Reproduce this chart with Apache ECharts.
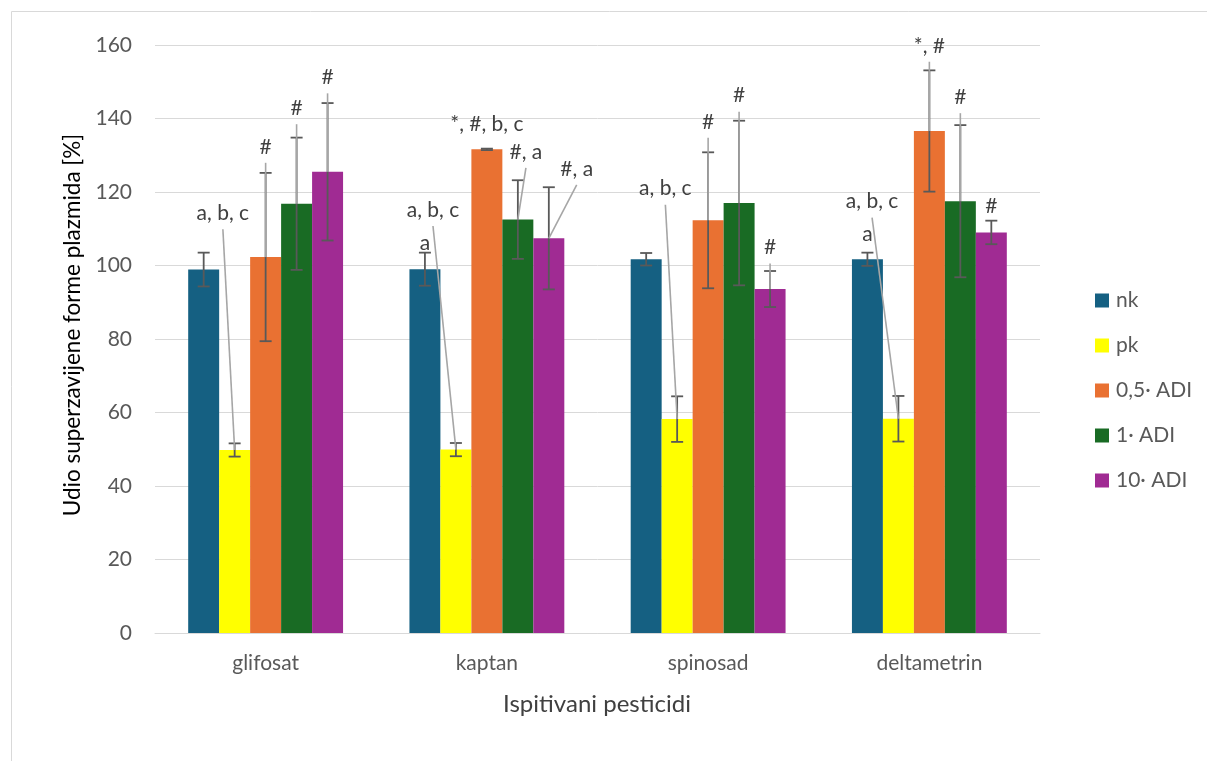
<!DOCTYPE html>
<html>
<head>
<meta charset="utf-8">
<script src="https://cdn.jsdelivr.net/npm/echarts@6/dist/echarts.min.js"></script>
<style>html,body{margin:0;padding:0;background:#fff}#c{width:1207px;height:761px}</style>
</head>
<body>
<div id="c"></div>
<script>
// ---- data ----
const categories = ['glifosat', 'kaptan', 'spinosad', 'deltametrin'];
const seriesNames = ['nk', 'pk', '0,5· ADI', '1· ADI', '10· ADI'];
const nk    = [98.9, 99.0, 101.7, 101.7];
const pk    = [49.8, 49.9, 58.2, 58.3];
const adi05 = [102.3, 131.6, 112.3, 136.6];
const adi1  = [116.8, 112.5, 117.0, 117.5];
const adi10 = [125.5, 107.4, 93.6, 109.0];
const nkErr    = [4.6, 4.5, 1.7, 1.8];
const pkErr    = [1.8, 1.8, 6.2, 6.2];
const adi05Err = [22.9, 0.2, 18.5, 16.5];
const adi1Err  = [18.0, 10.7, 22.4, 20.7];
const adi10Err = [18.7, 13.9, 4.9, 3.2];
const yTicks = [0, 20, 40, 60, 80, 100, 120, 140, 160];
// annotation texts: [category, series, text]
const annotTexts = [
  [0, 1, 'a, b, c'], [0, 2, '#'], [0, 3, '#'], [0, 4, '#'],
  [1, 0, 'a'], [1, 1, 'a, b, c'], [1, 2, '*, #, b, c'], [1, 3, '#, a'], [1, 4, '#, a'],
  [2, 1, 'a, b, c'], [2, 2, '#'], [2, 3, '#'], [2, 4, '#'],
  [3, 0, 'a'], [3, 1, 'a, b, c'], [3, 2, '*, #'], [3, 3, '#'], [3, 4, '#']
];
// annotation placement: [x offset in bar widths, label height (axis units), leader line]
const annotPlace = [
  [-0.38, 114.2, true], [0, 132.3, true], [0, 142.8, true], [0, 151.2, true],
  [0, 106.0, false], [-0.74, 115.1, true], [0, 138.4, false], [0.26, 130.9, true], [0.9, 126.3, true],
  [-0.38, 120.9, true], [0, 139.1, true], [0, 146.2, true], [0, 104.9, true],
  [0, 108.4, false], [-0.85, 117.4, true], [0, 159.8, true], [0, 145.8, true], [0, 116.0, false]
];

const values = [nk, pk, adi05, adi1, adi10];
const errors = [nkErr, pkErr, adi05Err, adi1Err, adi10Err];
const colors = ['#156082', '#FFFF00', '#E97132', '#196B24', '#A02B93'];
const FONT = 'Lato, "Open Sans", sans-serif';
const GAP = 0.30, NS = 5;

function barX(api, cat, s, dx) {
  const cw = api.size([1, 0])[0];
  const bw = cw * (1 - GAP) / NS;
  return api.coord([cat, 0])[0] + (s - (NS - 1) / 2) * bw + (dx || 0) * bw;
}

const errData = [];
values.forEach((arr, s) => arr.forEach((v, c) => errData.push([c, v - errors[s][c], v + errors[s][c], s])));

const chart = echarts.init(document.getElementById('c'));
const barSeries = seriesNames.map((n, s) => ({
  name: n, type: 'bar', data: values[s], barGap: '0%', barCategoryGap: (GAP * 100) + '%',
  itemStyle: { color: colors[s] }, z: 2
}));

const option = {
  animation: false,
  color: colors,
  grid: { left: 155, right: 167, top: 45, bottom: 128 },
  xAxis: {
    type: 'category', data: categories,
    axisLine: { lineStyle: { color: '#D9D9D9', width: 1 } },
    axisTick: { show: false },
    axisLabel: { color: '#595959', fontFamily: FONT, fontSize: 21, margin: 20 }
  },
  yAxis: {
    type: 'value', min: yTicks[0], max: yTicks[yTicks.length - 1], interval: yTicks[1] - yTicks[0],
    axisLine: { show: false }, axisTick: { show: false },
    splitLine: { lineStyle: { color: '#D9D9D9', width: 1 } },
    axisLabel: { color: '#595959', fontFamily: FONT, fontSize: 21, margin: 23 }
  },
  legend: {
    orient: 'vertical', left: 1090, top: 285,
    itemWidth: 14, itemHeight: 14, itemGap: 24, icon: 'rect',
    data: seriesNames,
    textStyle: { color: '#595959', fontFamily: FONT, fontSize: 21, lineHeight: 21, padding: [0, 0, 0, 2] }
  },
  graphic: [
    { type: 'rect', shape: { x: 11.5, y: 11.5, width: 1300, height: 900 }, style: { fill: 'none', stroke: '#D9D9D9', lineWidth: 1 }, silent: true, z: -10 },
    { type: 'text', x: 73, y: 325, rotation: Math.PI / 2,
      style: { text: 'Udio superzavijene forme plazmida [%]', font: '22.5px ' + FONT, fill: '#000', align: 'center', verticalAlign: 'middle' } },
    { type: 'text', x: 597, y: 704,
      style: { text: 'Ispitivani pesticidi', font: '24px ' + FONT, fill: '#404040', align: 'center', verticalAlign: 'middle' } }
  ],
  series: barSeries.concat([
    {
      type: 'custom', name: 'err', z: 5, silent: true, data: errData,
      renderItem: function (params, api) {
        const c = api.value(0), s = api.value(3);
        const x = barX(api, c, s);
        const y1 = api.coord([c, api.value(1)])[1];
        const y2 = api.coord([c, api.value(2)])[1];
        const st = { stroke: '#595959', lineWidth: 1.8 };
        return { type: 'group', children: [
          { type: 'line', shape: { x1: x, y1: y1, x2: x, y2: y2 }, style: st },
          { type: 'line', shape: { x1: x - 6, y1: y1, x2: x + 6, y2: y1 }, style: st },
          { type: 'line', shape: { x1: x - 6, y1: y2, x2: x + 6, y2: y2 }, style: st }
        ] };
      }
    },
    {
      type: 'custom', name: 'annot', z: 6, silent: true, clip: false,
      data: annotTexts.map((a, i) => [a[0], annotPlace[i][1], a[1]]),
      renderItem: function (params, api) {
        const i = params.dataIndex;
        const t = annotTexts[i], p = annotPlace[i];
        const c = t[0], s = t[1];
        const lx = barX(api, c, s, p[0]);
        const ly = api.coord([c, p[1]])[1];
        const children = [];
        if (p[2]) {
          const bx = barX(api, c, s);
          const by = api.coord([c, values[s][c]])[1];
          children.push({ type: 'line', shape: { x1: lx, y1: ly + 16, x2: bx, y2: by }, style: { stroke: '#A6A6A6', lineWidth: 1.6 } });
        }
        children.push({ type: 'text', style: { x: lx, y: ly, text: t[2], font: '21px ' + FONT, fill: '#404040', align: 'center', verticalAlign: 'middle' } });
        return { type: 'group', children: children };
      }
    }
  ])
};
chart.setOption(option);
</script>
</body>
</html>
